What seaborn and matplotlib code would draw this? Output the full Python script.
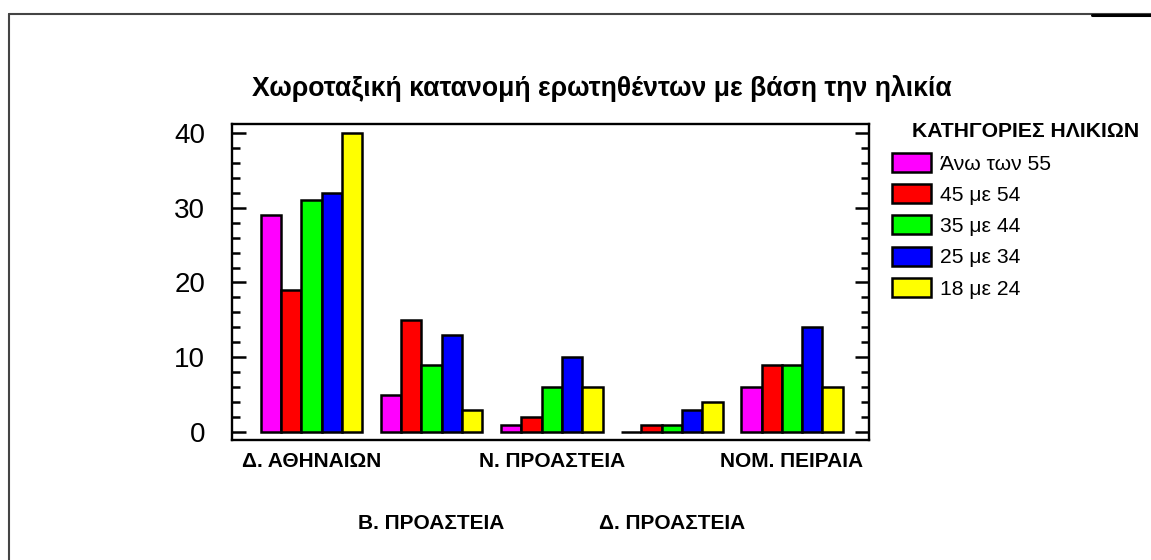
import pandas as pd
import matplotlib
matplotlib.use("Agg")
import matplotlib.pyplot as plt
from matplotlib.lines import Line2D
from matplotlib.ticker import MultipleLocator
import seaborn as sns

# DATA
regions = ['Δ. ΑΘΗΝΑΙΩΝ', 'Β. ΠΡΟΑΣΤΕΙΑ', 'Ν. ΠΡΟΑΣΤΕΙΑ', 'Δ. ΠΡΟΑΣΤΕΙΑ', 'ΝΟΜ. ΠΕΙΡΑΙΑ']
age_groups = ['Άνω των 55', '45 με 54', '35 με 44', '25 με 34', '18 με 24']
over_55 = [29, 5, 1, 0, 6]
age_45_54 = [19, 15, 2, 1, 9]
age_35_44 = [31, 9, 6, 1, 9]
age_25_34 = [32, 13, 10, 3, 14]
age_18_24 = [40, 3, 6, 4, 6]
colors = ['#ff00ff', '#ff0000', '#00ff00', '#0000ff', '#ffff00']

rows = []
for age, vals in zip(age_groups, [over_55, age_45_54, age_35_44, age_25_34, age_18_24]):
    for region, v in zip(regions, vals):
        rows.append({'region': region, 'age': age, 'count': v})
df = pd.DataFrame(rows)

# STYLE
sns.set_style("white")
plt.rcParams['font.family'] = ['Liberation Sans', 'DejaVu Sans']
plt.rcParams['text.color'] = 'black'
plt.rcParams['xtick.color'] = 'black'
plt.rcParams['ytick.color'] = 'black'

fig = plt.figure(figsize=(11.51, 5.60), dpi=100)
ax = fig.add_axes([232 / 1151, 1 - 440 / 560, 637 / 1151, 316 / 560])

sns.barplot(data=df, x='region', y='count', hue='age', order=regions, hue_order=age_groups,
            palette=colors, width=0.846, gap=0, edgecolor='black', linewidth=1.8,
            saturation=1, ax=ax)

ax.set_xlim(-0.662, 4.641)
ax.set_ylim(-1.07, 41.2)
ax.set_xlabel('')
ax.set_ylabel('')

for side in ['left', 'right', 'top', 'bottom']:
    ax.spines[side].set_visible(True)
    ax.spines[side].set_linewidth(1.7)
    ax.spines[side].set_color('black')

# y ticks, inward on both sides
ax.yaxis.set_major_locator(MultipleLocator(10))
ax.yaxis.set_minor_locator(MultipleLocator(2))
ax.tick_params(axis='y', which='both', direction='in', left=True, right=True,
               color='black', labelcolor='black')
ax.tick_params(axis='y', which='major', length=10, width=1.8, labelsize=20, pad=19.4)
ax.tick_params(axis='y', which='minor', length=5.5, width=1.8)

# x labels staggered in two rows
ax.tick_params(axis='x', length=0, labelsize=15, labelcolor='black')
for lab in ax.get_xticklabels():
    lab.set_fontweight('bold')
for i, tick in enumerate(ax.xaxis.get_major_ticks()):
    tick.set_pad(8.5 if i % 2 == 0 else 53)

# title
fig.text(0.523, 1 - 88 / 560, 'Χωροταξική κατανομή ερωτηθέντων με βάση την ηλικία',
         ha='center', va='center', fontsize=19.2, fontweight='bold', color='black')

# legend
sns.move_legend(ax, 'upper left', bbox_to_anchor=(892 / 1151, 1 - 153 / 560),
                bbox_transform=fig.transFigure, title=None, frameon=False,
                fontsize=15.2, handlelength=1.84, handleheight=1.0,
                handletextpad=0.42, labelspacing=0.5, borderpad=0, borderaxespad=0)
for t in ax.get_legend().get_texts():
    t.set_color('black')
fig.text(912 / 1151, 1 - 131 / 560, 'ΚΑΤΗΓΟΡΙΕΣ ΗΛΙΚΙΩΝ', ha='left', va='center',
         fontsize=15.2, fontweight='bold', color='black')

# outer frame (partially visible)
fig.add_artist(Line2D([8.5 / 1151, 8.5 / 1151], [0, 1 - 14 / 560], transform=fig.transFigure,
                      color='#444444', linewidth=1.5))
fig.add_artist(Line2D([8.5 / 1151, 1], [1 - 14 / 560, 1 - 14 / 560], transform=fig.transFigure,
                      color='#444444', linewidth=1.5))
fig.add_artist(Line2D([1092 / 1151, 1], [1 - 14.5 / 560, 1 - 14.5 / 560], transform=fig.transFigure,
                      color='black', linewidth=2.2))

fig.savefig('out.png', dpi=100)
